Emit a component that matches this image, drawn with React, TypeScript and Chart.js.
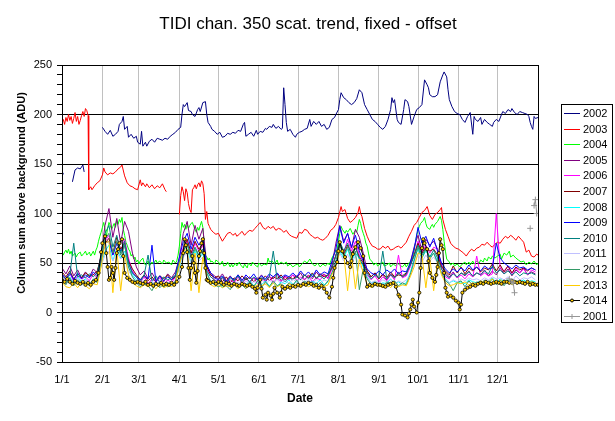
import React, { useEffect, useRef } from "react";
import { Chart, registerables } from "chart.js";

Chart.register(...registerables);

const FONT = "'Liberation Sans', Arial, sans-serif";

const monthDays = [0, 31, 59, 90, 120, 151, 181, 212, 243, 273, 304, 334];
const monthLabels = ["1/1", "2/1", "3/1", "4/1", "5/1", "6/1", "7/1", "8/1", "9/1", "10/1", "11/1", "12/1"];

const yearLabels = ["2002", "2003", "2004", "2005", "2006", "2007", "2008", "2009", "2010", "2011", "2012", "2013", "2014", "2001"];
const yearColors = ["#000080", "#ff0000", "#00ff00", "#800080", "#ff00ff", "#800000", "#00ffff", "#0000ff", "#008080", "#c0c0ff", "#339966", "#ffcc00", "#000000", "#969696"];

type Pair = [number, number | null];

const s2002: Pair[] = [
  [0, 137], [1, 141], [2, null], [8, 132], [10, 144], [12, 146], [14, 145], [16, 149], [17, 142], [18, null],
  [31, 187], [33, 183], [35, 180], [37, 184], [39, 178], [41, 180], [43, 183], [44, 190], [46, 193], [47, 198], [48, 185], [50, 188], [51, 177], [53, 180], [55, 176], [57, 178], [58, 172], [60, 170], [61, 183], [62, 168], [64, 172], [65, 168], [67, 173], [69, 175], [71, 172], [73, 176], [75, 175], [77, 174], [79, 176], [81, 175], [83, 178], [85, 180], [87, 182], [89, 185], [91, 187], [92, 200], [93, 210], [94, 208], [96, 212], [97, 204], [99, 203], [100, 200], [102, 198], [104, 205], [105, 207], [106, 203], [108, 212], [110, 213], [111, 200], [112, 192], [114, 188], [115, 185], [117, 183], [119, 180], [121, 182], [123, 177], [125, 178], [127, 181], [129, 180], [131, 182], [133, 181], [135, 184], [137, 183], [139, 190], [140, 192], [141, 178], [143, 180], [145, 182], [147, 178], [149, 184], [150, 180], [152, 183], [154, 182], [156, 186], [157, 185], [159, 188], [161, 187], [162, 190], [164, 186], [166, 188], [168, 185], [169, 186], [170, 227], [171, 210], [172, 192], [173, 183], [175, 185], [177, 180], [179, 177], [180, 180], [182, 182], [184, 183], [186, 185], [188, 186], [190, 195], [191, 188], [193, 193], [195, 190], [197, 193], [199, 188], [201, 190], [203, 185], [205, 187], [207, 195], [209, 197], [210, 200], [212, 205], [213, 215], [214, 222], [216, 217], [218, 215], [220, 212], [222, 210], [224, 212], [226, 216], [228, 225], [230, 222], [232, 210], [234, 205], [236, 200], [238, 195], [240, 193], [242, 190], [244, 187], [246, 185], [248, 188], [250, 195], [252, 205], [253, 217], [254, 212], [255, 215], [257, 195], [258, 192], [260, 190], [262, 205], [263, 215], [265, 213], [266, 208], [268, 190], [270, 198], [272, 205], [274, 207], [276, 210], [278, 235], [280, 230], [281, 227], [282, 220], [284, 218], [286, 218], [288, 220], [290, 233], [292, 240], [293, 243], [295, 238], [296, 225], [297, 215], [299, 208], [301, 203], [303, 201], [305, 200], [307, 195], [309, 192], [311, 198], [313, 202], [315, 180], [316, 198], [317, 195], [319, 193], [321, 197], [322, 190], [324, 195], [326, 192], [328, 190], [330, 188], [331, 192], [333, 195], [335, 193], [337, 200], [338, 203], [340, 201], [342, 205], [344, 203], [345, 206], [347, 202], [349, 200], [351, 203], [353, 202], [355, 201], [357, 200], [358, 198], [359, 192], [360, 188], [361, 185], [362, 198], [363, 196], [365, 197],
];

const s2003: Pair[] = [
  [0, 192], [1, 195], [2, 190], [3, 197], [4, 193], [5, 200], [6, 194], [7, 198], [8, 191], [9, 196], [10, 202], [11, 193], [12, 198], [13, 190], [14, 194], [15, 199], [16, 203], [17, 198], [18, 206], [19, 204], [20, 199], [20.5, 124], [22, 127], [23, 124], [25, 128], [27, 131], [29, 133], [31, 139], [32, 146], [33, 142], [35, 139], [37, 141], [39, 140], [41, 142], [43, 145], [45, 147], [46, 149], [48, 138], [50, 131], [52, 128], [54, 127], [56, 125], [58, 124], [60, 134], [61, 128], [62, 131], [64, 127], [65, 130], [67, 126], [69, 129], [71, 125], [73, 128], [75, 126], [77, 130], [79, 124], [80, 122], [81, null],
  [90, 99], [91, 118], [92, 127], [93, 122], [94, 113], [95, 125], [96, 121], [97, 110], [98, 104], [99, 101], [100, 124], [101, 126], [102, 129], [103, 125], [104, 129], [105, 131], [106, 127], [107, 133], [108, 130], [109, 120], [110, 94], [111, 102], [112, 90], [113, 87], [114, 84], [116, 81], [118, 79], [120, 80], [121, 77], [123, 72], [125, 76], [127, 80], [129, 81], [131, 78], [133, 80], [134, 77], [136, 79], [138, 82], [140, 78], [142, 81], [144, 83], [146, 82], [148, 85], [150, 88], [152, 91], [154, 86], [156, 84], [158, 87], [160, 85], [162, 87], [164, 83], [166, 85], [168, 84], [170, 81], [172, 83], [174, 79], [176, 77], [178, 76], [180, 75], [182, 81], [184, 80], [186, 84], [188, 83], [190, 79], [192, 77], [194, 75], [196, 76], [198, 74], [200, 73], [202, 75], [204, 78], [206, 83], [208, 85], [210, 89], [212, 96], [214, 107], [215, 102], [217, 104], [219, 95], [221, 91], [223, 93], [225, 96], [227, 101], [228, 107], [229, 100], [230, 97], [232, 85], [234, 77], [236, 71], [238, 67], [240, 66], [242, 64], [244, 64], [246, 67], [248, 65], [250, 67], [252, 63], [254, 64], [256, 66], [258, 67], [260, 65], [262, 68], [264, 71], [266, 77], [268, 82], [270, 88], [272, 91], [274, 96], [276, 101], [278, 103], [280, 107], [282, 98], [284, 94], [286, 99], [288, 101], [290, 104], [291, 106], [292, 94], [294, 84], [296, 77], [298, 70], [300, 67], [302, 65], [304, 64], [306, 62], [308, 60], [310, 57], [312, 61], [314, 64], [316, 62], [318, 65], [320, 66], [322, 69], [324, 68], [326, 71], [328, 68], [330, 66], [332, 69], [334, 71], [336, 70], [338, 74], [340, 77], [342, 75], [344, 78], [346, 76], [348, 73], [350, 77], [352, 74], [354, 71], [356, 61], [358, 63], [360, 57], [362, 56], [364, 59], [365, 58],
];

const s2004: Pair[] = [
  [0, 62], [1, 58], [2, 61], [3, 63], [4, 60], [5, 64], [6, 59], [7, 62], [8, 57], [10, 60], [11, 56], [12, 59], [14, 61], [15, 57], [17, 60], [18, 62], [19, 58], [21, 61], [22, 57], [24, 62], [25, 58], [26, 63], [27, 66], [28, 72], [29, 77], [30, 81], [31, 86], [32, 91], [33, 84], [34, 77], [35, 85], [36, 91], [37, 88], [38, 84], [39, 87], [40, 90], [41, 86], [42, 93], [43, 89], [44, 94], [45, 91], [46, 96], [47, 84], [48, 78], [49, 71], [50, 68], [51, 64], [52, 62], [53, 57], [54, 59], [55, 54], [56, 56], [57, 51], [58, 53], [59, 49], [60, 52], [62, 55], [63, 50], [64, 48], [66, 52], [67, 47], [69, 51], [70, 49], [72, 53], [73, 50], [75, 52], [77, 49], [78, 53], [80, 50], [82, 51], [84, 48], [85, 53], [87, 50], [88, 52], [89, 58], [90, 67], [91, 80], [92, 91], [93, 86], [94, 89], [95, 84], [96, 89], [97, 85], [98, 88], [99, 90], [100, 91], [101, 87], [102, 84], [103, 81], [104, 86], [105, 83], [106, 88], [107, 92], [108, 86], [109, 70], [110, 58], [111, 56], [112, 53], [113, 55], [114, 51], [115, 52], [117, 49], [118, 53], [120, 51], [121, 48], [123, 52], [124, 47], [126, 48], [127, 51], [129, 46], [130, 49], [131, 46], [133, 50], [134, 47], [136, 51], [137, 48], [139, 45], [140, 49], [142, 45], [143, 50], [145, 47], [146, 51], [148, 48], [150, 46], [151, 50], [153, 47], [155, 49], [157, 48], [158, 55], [159, 51], [161, 52], [163, 49], [165, 53], [166, 48], [168, 51], [170, 49], [172, 51], [173, 47], [175, 49], [177, 46], [179, 48], [181, 49], [182, 46], [184, 49], [186, 52], [188, 50], [190, 54], [192, 49], [194, 47], [196, 50], [198, 46], [200, 49], [202, 47], [204, 50], [205, 48], [207, 55], [209, 60], [211, 64], [212, 72], [213, 80], [214, 87], [215, 84], [217, 80], [218, 83], [219, 81], [221, 85], [223, 79], [225, 83], [226, 81], [227, 88], [228, 94], [229, 90], [230, 84], [231, 80], [232, 76], [233, 70], [234, 67], [235, 60], [236, 54], [238, 51], [239, 48], [241, 50], [242, 47], [244, 49], [246, 51], [247, 47], [249, 48], [251, 50], [252, 46], [254, 49], [256, 47], [257, 50], [259, 48], [261, 46], [263, 49], [264, 46], [266, 50], [268, 53], [269, 56], [270, 62], [271, 70], [272, 78], [273, 83], [274, 87], [275, 90], [277, 93], [278, 96], [279, 90], [280, 86], [282, 84], [283, 87], [284, 89], [285, 86], [286, 89], [288, 92], [290, 97], [291, 93], [292, 84], [293, 72], [294, 62], [295, 54], [297, 51], [298, 48], [300, 50], [301, 47], [303, 49], [305, 46], [307, 49], [309, 51], [310, 48], [312, 51], [313, 48], [315, 52], [316, 49], [318, 52], [320, 50], [321, 53], [323, 51], [324, 55], [326, 52], [327, 56], [329, 54], [330, 57], [332, 55], [334, 57], [336, 59], [337, 54], [339, 60], [341, 58], [343, 62], [344, 56], [346, 58], [348, 55], [350, 53], [352, 51], [354, 52], [356, 48], [358, 51], [360, 49], [362, 52], [364, 48], [365, 50],
];

const s2014: Pair[] = [
  [0, 33], [2, 31], [4, 34], [6, 31], [8, 29], [10, 32], [12, 30], [14, 29], [16, 31], [18, 28], [20, 30], [22, 28], [24, 31], [26, 33], [28, 40], [30, 61], [31, 70], [33, 77], [34, 60], [35, 46], [36, 33], [37, 35], [38, 46], [39, 40], [40, 33], [41, 45], [42, 60], [43, 64], [44, 70], [46, 74], [47, 57], [48, 40], [50, 35], [52, 33], [54, 31], [56, 30], [58, 31], [60, 30], [62, 29], [64, 31], [66, 28], [68, 29], [70, 27], [72, 29], [74, 28], [76, 30], [78, 28], [80, 29], [82, 28], [84, 30], [86, 28], [88, 31], [90, 36], [92, 46], [93, 60], [94, 74], [95, 68], [96, 61], [97, 45], [98, 33], [99, 45], [100, 57], [101, 50], [102, 40], [103, 30], [104, 42], [105, 57], [106, 62], [107, 70], [108, 74], [109, 60], [110, 45], [111, 33], [112, 32], [114, 30], [116, 31], [118, 29], [120, 31], [122, 30], [124, 28], [126, 30], [128, 29], [130, 27], [132, 29], [134, 28], [136, 27], [138, 29], [140, 28], [142, 27], [144, 28], [146, 26], [148, 24], [149, 20], [150, 25], [152, 33], [153, 24], [154, 15], [156, 18], [157, 13], [158, 20], [160, 17], [161, 13], [162, 19], [163, 25], [165, 20], [167, 15], [168, 20], [169, 26], [171, 24], [173, 26], [175, 25], [177, 27], [179, 26], [181, 28], [183, 27], [185, 29], [187, 28], [189, 30], [191, 29], [193, 27], [195, 28], [197, 25], [199, 27], [201, 24], [203, 20], [205, 15], [207, 26], [208, 35], [209, 45], [211, 51], [212, 62], [213, 71], [215, 62], [217, 56], [219, 50], [221, 46], [222, 52], [223, 59], [225, 66], [227, 71], [229, 65], [231, 57], [232, 40], [234, 26], [236, 28], [238, 27], [240, 29], [242, 28], [244, 28], [246, 27], [248, 26], [250, 28], [252, 29], [254, 30], [256, 26], [258, 18], [259, 16], [260, 8], [261, -2], [263, -3], [265, -5], [266, -1], [267, 3], [268, 8], [269, 13], [270, 6], [272, 0], [273, 10], [274, 20], [275, 45], [276, 65], [277, 74], [278, 70], [280, 64], [281, 52], [282, 40], [284, 35], [286, 31], [287, 38], [288, 46], [289, 60], [290, 74], [291, 68], [292, 64], [293, 40], [294, 25], [295, 20], [296, 16], [298, 17], [300, 15], [302, 12], [304, 10], [305, 3], [306, 8], [307, 20], [309, 23], [311, 25], [313, 26], [315, 28], [317, 27], [319, 29], [321, 30], [323, 29], [325, 31], [327, 30], [329, 29], [331, 30], [333, 31], [335, 30], [337, 29], [339, 31], [341, 31], [343, 30], [345, 32], [347, 31], [349, 30], [351, 31], [353, 30], [355, 29], [357, 31], [359, 28], [361, 29], [363, 28], [365, 28],
];

const s2001: Pair[] = [
  [343, 34], [345, 31], [346, 30], [347, 20], [348, null], [359, 85], [360, null], [362, 108], [363, 114], [364, 100],
];

// shared 3-day grid for the clustered years
const clusterDays = [
  0, 3, 6, 9, 12, 15, 18, 21, 24, 27, 30, 33, 36, 39, 42, 45, 48, 51, 54, 57,
  60, 63, 66, 69, 72, 75, 78, 81, 84, 87, 90, 93, 96, 99, 102, 105, 108, 111, 114, 117,
  120, 123, 126, 129, 132, 135, 138, 141, 144, 147, 150, 153, 156, 159, 162, 165, 168, 171, 174, 177,
  180, 183, 186, 189, 192, 195, 198, 201, 204, 207, 210, 213, 216, 219, 222, 225, 228, 231, 234, 237,
  240, 243, 246, 249, 252, 255, 258, 261, 264, 267, 270, 273, 276, 279, 282, 285, 288, 291, 294, 297,
  300, 303, 306, 309, 312, 315, 318, 321, 324, 327, 330, 333, 336, 339, 342, 345, 348, 351, 354, 357,
  360, 363,
];

const v2005 = [
  45, 39, 47, 37, 43, 35, 41, 36, 44, 40, 58, 88, 105, 76, 95, 70, 92, 82, 60, 46,
  38, 42, 34, 40, 33, 37, 31, 39, 35, 41, 55, 80, 92, 68, 88, 74, 85, 48, 40, 37,
  34, 39, 32, 37, 31, 38, 33, 36, 30, 35, 33, 38, 31, 36, 34, 39, 32, 37, 34, 38,
  35, 40, 33, 38, 34, 41, 36, 39, 35, 48, 70, 88, 72, 80, 65, 84, 76, 60, 42, 36,
  40, 34, 38, 33, 39, 35, 41, 36, 38, 50, 66, 78, 62, 74, 68, 72, 64, 48, 40, 36,
  41, 35, 40, 37, 42, 36, 40, 38, 43, 37, 42, 38, 45, 39, 44, 37, 43, 40, 45, 38,
  41, 39,
];
const v2006 = [
  38, 33, 40, 31, 37, 34, 36, 32, 39, 35, 50, 72, 78, 58, 70, 62, 74, 55, 42, 36,
  30, 36, 29, 34, 31, 35, 28, 33, 30, 36, 52, 66, 72, 58, 70, 62, 68, 44, 36, 33,
  31, 35, 28, 33, 30, 36, 29, 34, 31, 35, 29, 34, 32, 37, 30, 35, 31, 36, 33, 38,
  32, 36, 33, 37, 31, 35, 33, 38, 34, 44, 58, 70, 60, 74, 62, 72, 58, 52, 38, 33,
  37, 31, 36, 32, 38, 33, 58, 35, 37, 46, 58, 72, 61, 68, 60, 66, 64, 44, 36, 34,
  40, 35, 38, 34, 39, 36, 57, 37, 40, 37, 39, 100, 45, 42, 47, 39, 45, 40, 44, 38,
  43, 41,
];
const v2007 = [
  41, 36, 42, 34, 39, 35, 40, 37, 38, 42, 56, 70, 75, 60, 76, 64, 70, 52, 44, 38,
  33, 38, 32, 36, 31, 37, 34, 38, 33, 36, 50, 64, 74, 60, 72, 64, 70, 46, 38, 35,
  37, 31, 36, 30, 35, 32, 37, 33, 36, 31, 35, 33, 37, 32, 36, 34, 38, 33, 36, 34,
  37, 33, 38, 35, 40, 34, 39, 36, 38, 45, 58, 70, 58, 68, 60, 66, 56, 50, 42, 36,
  40, 34, 39, 35, 41, 36, 38, 37, 40, 48, 58, 70, 60, 66, 62, 64, 58, 46, 42, 38,
  47, 40, 46, 39, 45, 42, 46, 41, 45, 43, 49, 42, 48, 41, 47, 40, 46, 43, 45, 42,
  45, 43,
];
const v2008 = [
  35, 30, 36, 29, 36, 31, 34, 29, 33, 31, 48, 62, 68, 52, 65, 55, 62, 46, 38, 33,
  28, 32, 27, 30, 27, 31, 26, 30, 28, 32, 46, 58, 64, 50, 62, 54, 60, 40, 32, 29,
  31, 25, 29, 27, 31, 26, 30, 28, 32, 27, 31, 28, 32, 27, 30, 26, 31, 29, 33, 28,
  32, 27, 31, 28, 32, 29, 33, 28, 31, 40, 50, 62, 55, 64, 52, 60, 55, 46, 36, 30,
  31, 28, 30, 29, 34, 29, 31, 28, 30, 40, 54, 64, 55, 62, 56, 60, 52, 40, 34, 30,
  32, 30, 31, 29, 33, 31, 30, 32, 29, 31, 35, 30, 34, 31, 33, 30, 32, 31, 33, 30,
  32, 31,
];
const v2009 = [
  39, 34, 40, 33, 40, 34, 38, 35, 41, 37, 52, 70, 72, 58, 70, 62, 68, 50, 40, 36,
  33, 37, 34, 68, 31, 37, 32, 36, 33, 38, 56, 72, 80, 64, 76, 68, 74, 48, 40, 35,
  33, 37, 31, 36, 33, 38, 32, 38, 34, 39, 33, 37, 34, 39, 36, 40, 35, 38, 36, 40,
  36, 42, 37, 41, 36, 43, 38, 41, 39, 52, 64, 87, 70, 80, 66, 78, 62, 52, 44, 40,
  38, 42, 38, 43, 40, 44, 39, 42, 41, 50, 64, 86, 70, 77, 66, 75, 62, 50, 44, 40,
  44, 41, 45, 42, 48, 43, 46, 42, 47, 44, 45, 70, 55, 50, 47, 44, 48, 45, 46, 43,
  45, 43,
];
const v2010 = [
  37, 34, 38, 70, 36, 38, 35, 39, 36, 40, 57, 80, 88, 66, 78, 60, 72, 50, 40, 36,
  31, 38, 58, 31, 37, 30, 36, 33, 35, 37, 52, 62, 70, 57, 66, 58, 64, 42, 36, 33,
  29, 36, 29, 35, 32, 37, 30, 35, 31, 36, 32, 35, 33, 36, 62, 33, 36, 31, 35, 33,
  36, 33, 38, 34, 39, 35, 37, 34, 38, 46, 57, 72, 62, 70, 58, 66, 54, 48, 40, 34,
  38, 35, 62, 34, 38, 35, 40, 36, 39, 48, 57, 68, 58, 65, 56, 63, 55, 44, 38, 35,
  39, 36, 40, 38, 41, 37, 40, 38, 42, 39, 47, 40, 43, 39, 42, 38, 41, 37, 40, 39,
  40, 38,
];
const v2011 = [
  34, 29, 34, 28, 35, 29, 33, 30, 32, 34, 47, 58, 62, 52, 60, 54, 58, 42, 36, 31,
  27, 32, 26, 32, 27, 33, 28, 31, 27, 33, 48, 56, 60, 50, 58, 52, 56, 38, 32, 30,
  28, 31, 26, 30, 28, 31, 27, 32, 29, 31, 30, 34, 28, 33, 29, 34, 28, 33, 29, 34,
  30, 35, 29, 34, 28, 34, 30, 33, 31, 40, 49, 60, 52, 59, 50, 57, 48, 42, 35, 30,
  32, 30, 33, 31, 34, 28, 32, 30, 33, 38, 49, 59, 51, 58, 52, 56, 50, 40, 34, 30,
  33, 31, 34, 32, 35, 33, 34, 32, 35, 33, 36, 34, 35, 33, 36, 31, 37, 33, 35, 34,
  36, 33,
];
const v2012 = [
  33, 28, 35, 27, 33, 28, 31, 27, 34, 30, 52, 74, 80, 60, 72, 58, 68, 46, 36, 30,
  26, 29, 27, 22, 30, 25, 29, 26, 28, 31, 50, 62, 68, 55, 64, 57, 62, 40, 31, 28,
  26, 28, 27, 23, 30, 25, 28, 24, 31, 26, 32, 25, 31, 26, 32, 27, 29, 24, 30, 27,
  33, 26, 32, 28, 31, 26, 30, 27, 32, 40, 52, 68, 57, 66, 54, 62, 23, 44, 34, 28,
  30, 28, 25, 31, 29, 32, 27, 30, 28, 38, 52, 66, 55, 64, 54, 60, 50, 40, 32, 29,
  22, 30, 32, 26, 32, 27, 31, 28, 33, 29, 34, 28, 33, 27, 33, 28, 32, 29, 31, 30,
  31, 29,
];
const v2013 = [
  31, 26, 25, 30, 25, 31, 27, 24, 29, 28, 46, 70, 72, 20, 64, 22, 58, 38, 30, 27,
  25, 28, 26, 28, 24, 29, 25, 27, 26, 29, 48, 62, 64, 22, 60, 20, 56, 36, 28, 26,
  28, 25, 27, 26, 28, 24, 29, 25, 27, 26, 28, 27, 29, 25, 30, 26, 28, 25, 29, 27,
  28, 25, 29, 26, 28, 24, 27, 26, 28, 38, 46, 62, 60, 22, 58, 24, 54, 40, 29, 25,
  28, 27, 25, 29, 25, 30, 26, 28, 27, 36, 46, 60, 58, 25, 56, 22, 52, 38, 30, 27,
  28, 30, 29, 31, 28, 30, 29, 32, 30, 31, 34, 29, 33, 30, 32, 28, 32, 30, 31, 29,
  31, 30,
];

const clusterValues = [v2005, v2006, v2007, v2008, v2009, v2010, v2011, v2012, v2013];

const Y_MIN = -50;
const Y_MAX = 250;

function pairsToPoints(p: Pair[]) {
  return p.map(([x, y]) => ({ x, y }));
}

function gridToPoints(vals: number[]) {
  return clusterDays.map((d, i) => ({ x: d, y: vals[i] }));
}

const decorPlugin = {
  id: "decor",
  afterDraw(chart: any) {
    const ctx = chart.ctx as CanvasRenderingContext2D;
    ctx.save();
    const a = chart.chartArea;
    ctx.strokeStyle = "#000";
    ctx.lineWidth = 1;
    ctx.strokeRect(Math.round(a.left) + 0.5, Math.round(a.top) + 0.5, Math.round(a.right - a.left), Math.round(a.bottom - a.top));
    // main title
    ctx.fillStyle = "#000";
    ctx.font = `17px ${FONT}`;
    ctx.textAlign = "center";
    ctx.textBaseline = "middle";
    ctx.fillText("TIDI chan. 350 scat. trend, fixed - offset", 308, 24);
    // y-axis title
    ctx.save();
    ctx.translate(22, 193);
    ctx.rotate(-Math.PI / 2);
    ctx.font = `bold 11px ${FONT}`;
    ctx.fillText("Column sum above background (ADU)", 0, 0);
    ctx.restore();
    // legend box
    const bx = 561, by = 104, bw = 51, bh = 218;
    ctx.fillStyle = "#fff";
    ctx.fillRect(bx, by, bw, bh);
    ctx.strokeStyle = "#000";
    ctx.strokeRect(bx + 0.5, by + 0.5, bw, bh);
    ctx.font = `11px ${FONT}`;
    ctx.textAlign = "left";
    ctx.textBaseline = "middle";
    yearLabels.forEach((lab, i) => {
      const y = Math.round(113 + i * 15.6) + 0.5;
      ctx.strokeStyle = yearColors[i];
      ctx.lineWidth = 1;
      ctx.beginPath();
      ctx.moveTo(564, y);
      ctx.lineTo(580, y);
      ctx.stroke();
      if (lab === "2014") {
        ctx.fillStyle = "#ffcc00";
        ctx.strokeStyle = "#000";
        ctx.beginPath();
        ctx.arc(572, y, 1.5, 0, Math.PI * 2);
        ctx.fill();
        ctx.stroke();
      }
      if (lab === "2001") {
        ctx.strokeStyle = yearColors[i];
        ctx.beginPath();
        ctx.moveTo(572, y - 2.5);
        ctx.lineTo(572, y + 2.5);
        ctx.stroke();
      }
      ctx.fillStyle = "#000";
      ctx.fillText(lab, 583, y);
    });
    ctx.restore();
  },
};

export default function App() {
  const ref = useRef<HTMLCanvasElement | null>(null);

  useEffect(() => {
    if (!ref.current) return;
    const datasets: any[] = [];
    const base = (i: number) => ({
      label: yearLabels[i],
      borderColor: yearColors[i],
      backgroundColor: yearColors[i],
      borderWidth: 1,
      pointRadius: 0,
      tension: 0,
      spanGaps: false,
      fill: false,
      order: 100 - i,
    });
    datasets.push({ ...base(0), data: pairsToPoints(s2002) });
    datasets.push({ ...base(1), data: pairsToPoints(s2003) });
    datasets.push({ ...base(2), data: pairsToPoints(s2004) });
    clusterValues.forEach((vals, k) => {
      datasets.push({ ...base(3 + k), data: gridToPoints(vals) });
    });
    datasets.push({
      ...base(12),
      data: pairsToPoints(s2014),
      pointRadius: 1.6,
      pointBackgroundColor: "#ffcc00",
      pointBorderColor: "#000",
      pointBorderWidth: 0.8,
    });
    datasets.push({
      ...base(13),
      data: pairsToPoints(s2001),
      pointRadius: 3,
      pointStyle: "cross",
      pointBorderColor: yearColors[13],
    });

    const chart = new Chart(ref.current, {
      type: "line",
      data: { datasets },
      options: {
        animation: false,
        responsive: false,
        events: [],
        layout: { padding: { top: 65, right: 77, bottom: 0, left: 0 } },
        plugins: {
          legend: { display: false },
          tooltip: { enabled: false },
          title: { display: false },
        },
        scales: {
          x: {
            type: "linear",
            min: 0,
            max: 365,
            afterBuildTicks: (scale: any) => {
              scale.ticks = monthDays.map((v) => ({ value: v }));
            },
            afterFit: (scale: any) => {
              scale.height = 59;
            },
            ticks: {
              autoSkip: false,
              maxRotation: 0,
              padding: 11,
              color: "#000",
              font: { family: FONT, size: 11 },
              callback: (_v: any, idx: number) => monthLabels[idx],
            },
            grid: {
              color: "#c0c0c0",
              lineWidth: 1,
              drawTicks: false,
              tickLength: 0,
            },
            border: { color: "#000", width: 1 },
            title: {
              display: true,
              text: "Date",
              color: "#000",
              font: { family: FONT, size: 12, weight: "bold" },
              padding: { top: 0, bottom: 15 },
            },
          },
          y: {
            type: "linear",
            min: Y_MIN,
            max: Y_MAX,
            afterFit: (scale: any) => {
              scale.width = 62;
            },
            ticks: {
              stepSize: 10,
              autoSkip: false,
              padding: 5,
              color: "#000",
              font: { family: FONT, size: 11 },
              callback: (v: any) => (Number(v) % 50 === 0 ? String(v) : ""),
            },
            grid: {
              color: (c: any) => (c.tick && c.tick.value % 50 === 0 ? "#000" : "rgba(0,0,0,0)"),
              tickColor: "#000",
              tickLength: 5,
              lineWidth: 1,
            },
            border: { color: "#000", width: 1 },
            title: { display: false },
          },
        },
      } as any,
      plugins: [decorPlugin],
    });
    return () => chart.destroy();
  }, []);

  return (
    <div style={{ position: "absolute", left: 0, top: 0, width: 615, height: 421, background: "#fff" }}>
      <canvas ref={ref} width={615} height={421} style={{ display: "block" }} />
    </div>
  );
}
